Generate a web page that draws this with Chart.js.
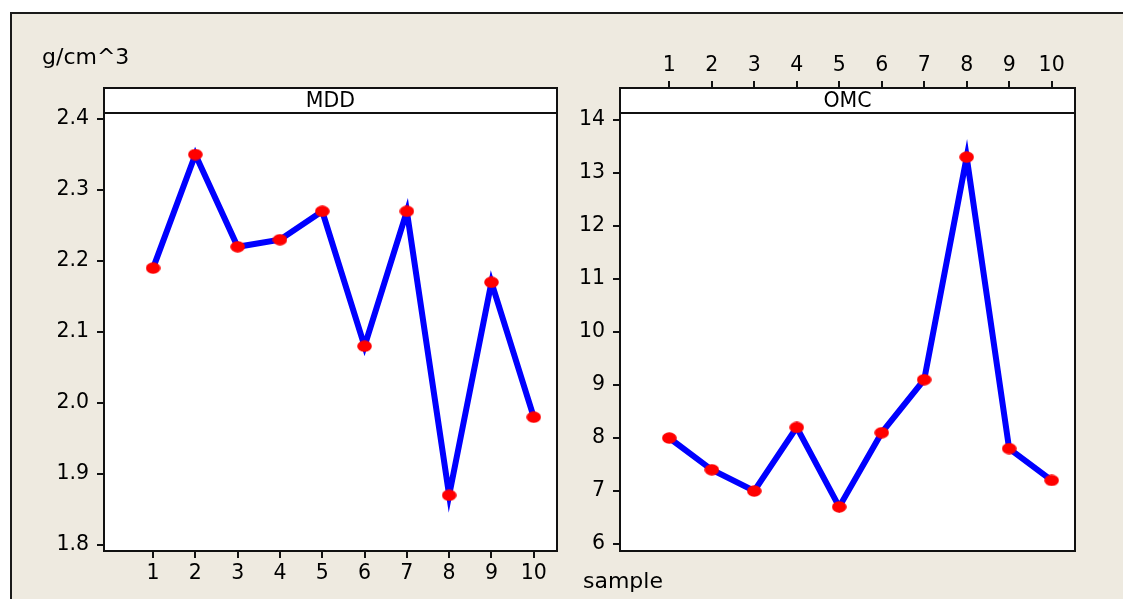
<!DOCTYPE html>
<html>
<head>
<meta charset="utf-8">
<script src="https://cdn.jsdelivr.net/npm/chart.js@4/dist/chart.umd.min.js"></script>
<style>
  html, body { margin: 0; padding: 0; background: #ffffff; width: 1123px; height: 599px; overflow: hidden; }
  #bg { position: absolute; left: 10px; top: 12px; width: 1200px; height: 700px; background: #eeeae0; border-left: 2px solid #1a1a1a; border-top: 2px solid #1a1a1a; }
  canvas { position: absolute; left: 0; top: 0; }
</style>
</head>
<body>
<div id="bg"></div>
<canvas id="c1" width="1123" height="599"></canvas>
<canvas id="c2" width="1123" height="599"></canvas>
<script>
// ---- data ----
const samples = [1, 2, 3, 4, 5, 6, 7, 8, 9, 10];
const mdd = [2.19, 2.35, 2.22, 2.23, 2.27, 2.08, 2.27, 1.87, 2.17, 1.98];
const omc = [8.0, 7.4, 7.0, 8.2, 6.7, 8.1, 9.1, 13.3, 7.8, 7.2];
const mddTicks = [1.8, 1.9, 2.0, 2.1, 2.2, 2.3, 2.4];
const omcTicks = [6, 7, 8, 9, 10, 11, 12, 13, 14];
const sampleTicks = [1, 2, 3, 4, 5, 6, 7, 8, 9, 10];
const panelTitles = ['MDD', 'OMC'];
const unitLabel = 'g/cm^3';
const xLabel = 'sample';

const FONT = 'DejaVu Sans';

// elliptical red marker
function makeMarker() {
  const c = document.createElement('canvas');
  c.width = 15; c.height = 12;
  const g = c.getContext('2d');
  g.fillStyle = '#ff0000';
  g.beginPath();
  g.ellipse(7.5, 6, 7.3, 5.8, 0, 0, Math.PI * 2);
  g.fill();
  return c;
}
const marker = makeMarker();

const panelPlugin = {
  id: 'panelFrame',
  beforeDraw(chart, args, opts) {
    const a = chart.chartArea, ctx = chart.ctx;
    ctx.save();
    ctx.fillStyle = '#ffffff';
    ctx.fillRect(a.left, a.top, a.right - a.left, a.bottom - a.top);
    ctx.restore();
  },
  afterDraw(chart, args, opts) {
    const a = chart.chartArea, ctx = chart.ctx;
    ctx.save();
    ctx.fillStyle = '#ffffff';
    ctx.fillRect(a.left, a.top, a.right - a.left, opts.headerH);
    ctx.strokeStyle = '#111111';
    ctx.lineWidth = 2;
    ctx.strokeRect(a.left, a.top, a.right - a.left, a.bottom - a.top);
    ctx.beginPath();
    ctx.moveTo(a.left, a.top + opts.headerH);
    ctx.lineTo(a.right, a.top + opts.headerH);
    ctx.stroke();
    ctx.fillStyle = '#000000';
    ctx.font = '20.5px "' + FONT + '"';
    ctx.textAlign = 'center';
    ctx.textBaseline = 'middle';
    ctx.fillText(opts.title, (a.left + a.right) / 2, a.top + opts.headerH / 2 + 1);
    if (opts.extra) {
      ctx.textAlign = 'left';
      ctx.font = '22px "' + FONT + '"';
      ctx.fillText(opts.extra.text, opts.extra.x, opts.extra.y);
    }
    ctx.restore();
  }
};

function tickFont() { return { family: FONT, size: 20.5 }; }

function makeChart(id, values, yTicks, yMin, yMax, xPos, padding, yDigits, extra, title) {
  const xAxisH = xPos === 'bottom' ? 48 : 88;
  return new Chart(document.getElementById(id), {
    type: 'line',
    data: {
      datasets: [{
        data: samples.map((s, i) => ({ x: s, y: values[i] })),
        borderColor: '#0000ff',
        borderWidth: 6,
        tension: 0,
        borderJoinStyle: 'miter',
        pointStyle: marker,
        pointRadius: 7,
        pointBackgroundColor: '#ff0000',
        pointBorderWidth: 0
      }]
    },
    options: {
      responsive: false,
      animation: false,
      events: [],
      layout: { padding: padding },
      plugins: {
        legend: { display: false },
        tooltip: { enabled: false },
        panelFrame: { title: title, headerH: 25, extra: extra }
      },
      scales: {
        x: {
          type: 'linear',
          position: xPos,
          min: -0.16,
          max: 10.55,
          afterBuildTicks: s => { s.ticks = sampleTicks.map(v => ({ value: v })); },
          afterFit: s => { s.height = xAxisH; },
          border: { display: false },
          grid: { display: true, drawOnChartArea: false, drawTicks: true, tickLength: 7, color: '#111111', lineWidth: 2 },
          ticks: { color: '#000000', font: tickFont(), padding: 3, maxRotation: 0, autoSkip: false, callback: v => String(v) }
        },
        y: {
          type: 'linear',
          position: 'left',
          min: yMin,
          max: yMax,
          afterBuildTicks: s => { s.ticks = yTicks.map(v => ({ value: v })); },
          afterFit: s => { s.width = padding.left === 0 ? 104 : 60; },
          border: { display: false },
          grid: { display: true, drawOnChartArea: false, drawTicks: true, tickLength: 7, color: '#111111', lineWidth: 2 },
          ticks: { color: '#000000', font: tickFont(), padding: 8, autoSkip: false, callback: v => Number(v).toFixed(yDigits) }
        }
      }
    },
    plugins: [panelPlugin]
  });
}

makeChart('c1', mdd, mddTicks, 1.7915, 2.4437, 'bottom',
  { left: 0, top: 88, right: 566, bottom: 0 }, 1,
  { text: unitLabel, x: 42, y: 58 }, panelTitles[0]);

makeChart('c2', omc, omcTicks, 5.868, 14.604, 'top',
  { left: 560, top: 0, right: 48, bottom: 48 }, 0,
  { text: xLabel, x: 583, y: 582 }, panelTitles[1]);
</script>
</body>
</html>
